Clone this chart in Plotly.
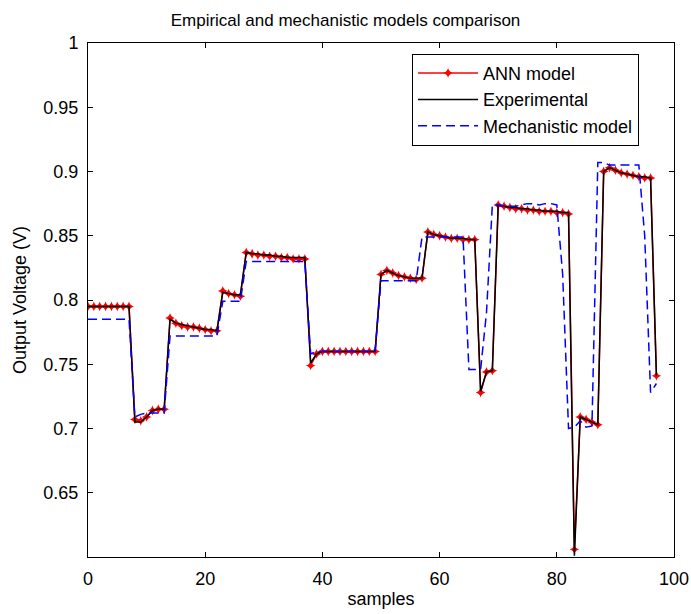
import plotly.graph_objects as go

samples = list(range(0, 98))

ann_model = [
    0.795, 0.795, 0.795, 0.795, 0.795, 0.795, 0.795, 0.795,
    0.707, 0.706, 0.709, 0.714, 0.715, 0.715,
    0.786, 0.782, 0.780, 0.779, 0.779, 0.778, 0.777, 0.776, 0.776,
    0.807, 0.805, 0.804, 0.803,
    0.837, 0.836, 0.835, 0.835, 0.834, 0.834, 0.833, 0.833, 0.832, 0.832, 0.832,
    0.749,
    0.758,
    0.760, 0.760, 0.760, 0.760, 0.760, 0.760, 0.760, 0.760, 0.760, 0.760,
    0.820, 0.823, 0.821, 0.819, 0.818, 0.817, 0.816, 0.817,
    0.853, 0.851, 0.850, 0.849, 0.848, 0.848, 0.847, 0.847, 0.847,
    0.728, 0.744, 0.745,
    0.874, 0.873, 0.872, 0.871, 0.871, 0.870, 0.870, 0.869, 0.869, 0.869, 0.868, 0.868, 0.867,
    0.606,
    0.709, 0.707, 0.705, 0.703,
    0.900, 0.903, 0.901, 0.899, 0.898, 0.897, 0.896, 0.895, 0.895,
    0.741,
]

experimental = [
    0.795, 0.795, 0.795, 0.795, 0.795, 0.795, 0.795, 0.795,
    0.705, 0.705, 0.709, 0.714, 0.715, 0.715,
    0.785, 0.782, 0.781, 0.780, 0.779, 0.778, 0.777, 0.777, 0.776,
    0.806, 0.805, 0.804, 0.804,
    0.837, 0.836, 0.836, 0.835, 0.835, 0.834, 0.834, 0.833, 0.833, 0.833, 0.833,
    0.751,
    0.758,
    0.760, 0.760, 0.760, 0.760, 0.760, 0.760, 0.760, 0.760, 0.760, 0.760,
    0.820, 0.823, 0.821, 0.819, 0.818, 0.817, 0.817, 0.817,
    0.853, 0.851, 0.850, 0.849, 0.848, 0.848, 0.848, 0.847, 0.847,
    0.729, 0.744, 0.745,
    0.874, 0.873, 0.872, 0.872, 0.871, 0.871, 0.870, 0.870, 0.869, 0.869, 0.869, 0.868, 0.868,
    0.601,
    0.709, 0.707, 0.705, 0.703,
    0.900, 0.903, 0.901, 0.899, 0.898, 0.897, 0.896, 0.896, 0.895,
    0.741,
]

mechanistic = [
    0.785, 0.785, 0.785, 0.785, 0.785, 0.785, 0.785, 0.785,
    0.709, 0.711, 0.712, 0.712, 0.712, 0.712,
    0.772, 0.772, 0.772, 0.772, 0.772, 0.772, 0.772, 0.772, 0.772,
    0.799, 0.799, 0.799, 0.799,
    0.830, 0.830, 0.830, 0.830, 0.830, 0.830, 0.830, 0.830, 0.830, 0.830, 0.830,
    0.758,
    0.760, 0.760, 0.760, 0.760, 0.760, 0.760, 0.760, 0.760, 0.760, 0.760, 0.760,
    0.815, 0.815, 0.815, 0.815, 0.815, 0.815, 0.815,
    0.849, 0.849, 0.849, 0.849, 0.849, 0.849, 0.849, 0.849,
    0.746, 0.746, 0.746,
    0.790,
    0.874, 0.874, 0.873, 0.873, 0.873, 0.874, 0.875, 0.875, 0.874, 0.875, 0.875, 0.874,
    0.820,
    0.700, 0.701, 0.706, 0.701, 0.702,
    0.907, 0.907, 0.905, 0.905, 0.905, 0.905, 0.905, 0.905,
    0.850, 0.728, 0.735,
]

y_tick_vals = [0.65, 0.7, 0.75, 0.8, 0.85, 0.9, 0.95, 1.0]
y_tick_text = ["0.65", "0.7", "0.75", "0.8", "0.85", "0.9", "0.95", "1"]
x_tick_vals = [0, 20, 40, 60, 80, 100]

FONT = "Liberation Sans, Arial, Helvetica, sans-serif"

fig = go.Figure()
fig.add_trace(go.Scatter(
    x=samples, y=ann_model, name="ANN model", mode="lines+markers",
    line=dict(color="#ff0000", width=1.5),
    marker=dict(color="#ff0000", size=7, symbol="star-diamond"),
))
fig.add_trace(go.Scatter(
    x=samples, y=experimental, name="Experimental", mode="lines",
    line=dict(color="#000000", width=1.5),
))
fig.add_trace(go.Scatter(
    x=samples, y=mechanistic, name="Mechanistic model", mode="lines",
    line=dict(color="#0000ff", width=1.5, dash="9px,5px"),
))

axis_common = dict(
    showline=True, linecolor="black", linewidth=1, mirror="allticks",
    ticks="inside", ticklen=5, tickcolor="black", showgrid=False, zeroline=False,
    tickfont=dict(family=FONT, size=18, color="black"), automargin=False,
)

fig.update_layout(
    width=691, height=614,
    margin=dict(l=88, r=17, t=43, b=57, autoexpand=False),
    paper_bgcolor="white", plot_bgcolor="white",
    title=dict(text="Empirical and mechanistic models comparison",
               font=dict(family=FONT, size=17, color="black"),
               x=0.5, xanchor="center", xref="container",
               y=1 - 20 / 614, yanchor="middle", yref="container"),
    xaxis=dict(range=[0, 100], tickvals=x_tick_vals,
               title=dict(text="samples", font=dict(family=FONT, size=18, color="black"), standoff=4),
               ticklabelstandoff=5, **axis_common),
    yaxis=dict(range=[0.6, 1.0], tickvals=y_tick_vals, ticktext=y_tick_text,
               title=dict(text="Output Voltage (V)", font=dict(family=FONT, size=18, color="black"), standoff=12),
               ticklabelstandoff=5, **axis_common),
    legend=dict(x=0.553, y=0.979, xanchor="left", yanchor="top",
                bgcolor="white", bordercolor="black", borderwidth=1,
                font=dict(family=FONT, size=18, color="black"),
                itemwidth=60, tracegroupgap=0, entrywidth=186, entrywidthmode="pixels"),
    showlegend=True,
)

fig.write_html(
    "out.html",
    config={"displayModeBar": False},
    post_script="document.body.style.margin='0';document.body.style.padding='0';",
)
